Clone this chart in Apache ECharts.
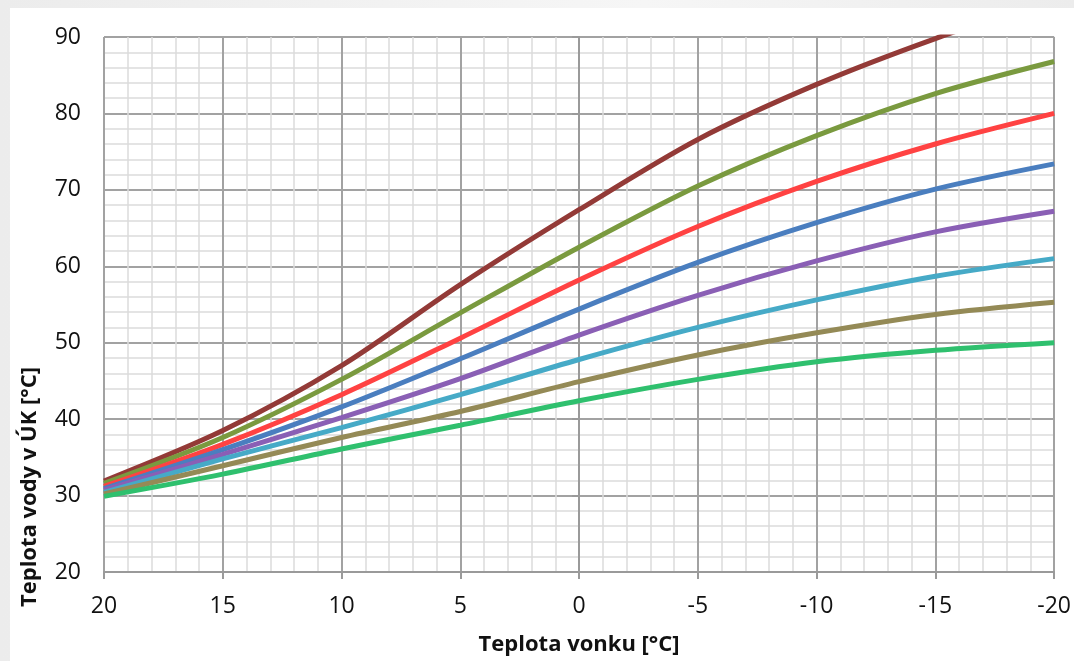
<!DOCTYPE html>
<html>
<head>
<meta charset="utf-8">
<script src="https://cdn.jsdelivr.net/npm/echarts@6/dist/echarts.min.js"></script>
<style>
html,body{margin:0;padding:0;width:1074px;height:661px;overflow:hidden;background:linear-gradient(90deg,#ececec,#f6f6f6 60%,#ececec);}
#c{position:absolute;left:10px;top:8px;width:1064px;height:653px;background:#fff;}
</style>
</head>
<body>
<div id="c"></div>
<script>
const outdoorTemps = [20, 15, 10, 5, 0, -5, -10, -15, -20];
const xTicks = [20, 15, 10, 5, 0, -5, -10, -15, -20];
const yTicks = [20, 30, 40, 50, 60, 70, 80, 90];
const curveDarkRed = [31.9, 38.5, 47.0, 57.6, 67.4, 76.6, 83.8, 89.8, 95.0];
const curveOlive   = [31.6, 37.6, 45.2, 53.9, 62.5, 70.5, 77.1, 82.6, 86.8];
const curveRed     = [31.2, 36.7, 43.2, 50.6, 58.2, 65.2, 71.1, 76.0, 80.0];
const curveBlue    = [30.9, 36.0, 41.6, 47.9, 54.4, 60.5, 65.7, 70.1, 73.4];
const curvePurple  = [30.7, 35.4, 40.2, 45.3, 51.0, 56.2, 60.7, 64.5, 67.2];
const curveCyan    = [30.4, 34.8, 38.9, 43.2, 47.8, 52.0, 55.6, 58.7, 61.0];
const curveKhaki   = [30.2, 33.9, 37.6, 41.0, 44.9, 48.4, 51.3, 53.7, 55.3];
const curveGreen   = [29.9, 32.8, 36.1, 39.2, 42.4, 45.2, 47.5, 49.0, 50.0];

const curves = [
  [curveDarkRed, '#933a37'],
  [curveOlive, '#7a9a3f'],
  [curveRed, '#ff4242'],
  [curveBlue, '#4a7ebf'],
  [curvePurple, '#8a5fb5'],
  [curveCyan, '#46aac7'],
  [curveKhaki, '#948a56'],
  [curveGreen, '#2fc06e']
];

const chart = echarts.init(document.getElementById('c'));
const font = '"Open Sans", "Noto Sans", sans-serif';
chart.setOption({
  animation: false,
  grid: {left: 94, right: 18, top: 29, bottom: 83},
  xAxis: {
    type: 'value', inverse: true, min: -20, max: 20, interval: 5,
    name: 'Teplota vonku [°C]', nameLocation: 'middle', nameGap: 62,
    nameTextStyle: {fontFamily: font, fontSize: 22, fontWeight: 'bold', color: '#111'},
    axisLine: {show: true, onZero: false, lineStyle: {color: '#9a9a9a', width: 2}},
    axisTick: {show: true, length: 7, lineStyle: {color: '#9a9a9a', width: 2}},
    axisLabel: {margin: 23, fontFamily: font, fontSize: 23, color: '#111',
      formatter: v => xTicks.includes(v) ? String(v) : ''},
    splitLine: {show: true, lineStyle: {color: '#a2a2a2', width: 2}},
    minorTick: {show: false, splitNumber: 5},
    minorSplitLine: {show: true, lineStyle: {color: '#dcdcdc', width: 1.5}}
  },
  yAxis: {
    type: 'value', min: 20, max: 90, interval: 10,
    axisLine: {show: true, lineStyle: {color: '#9a9a9a', width: 2}},
    axisTick: {show: true, length: 7, lineStyle: {color: '#9a9a9a', width: 2}},
    axisLabel: {margin: 23, fontFamily: font, fontSize: 23, color: '#111',
      formatter: v => yTicks.includes(v) ? String(v) : ''},
    splitLine: {show: true, lineStyle: {color: '#a2a2a2', width: 2}},
    minorTick: {show: false, splitNumber: 5},
    minorSplitLine: {show: true, lineStyle: {color: '#dcdcdc', width: 1.5}}
  },
  graphic: [{
    type: 'text', x: 20, y: 479, rotation: Math.PI / 2,
    style: {text: 'Teplota vody v ÚK [°C]', fontFamily: font, fontSize: 22, fontWeight: 'bold',
      fill: '#111', align: 'center', verticalAlign: 'middle'}
  }],
  series: curves.map(([vals, color]) => ({
    type: 'line', smooth: 0.3, symbol: 'none', clip: true,
    data: outdoorTemps.map((t, i) => [t, vals[i]]),
    lineStyle: {color: color, width: 5}
  }))
});
</script>
</body>
</html>
